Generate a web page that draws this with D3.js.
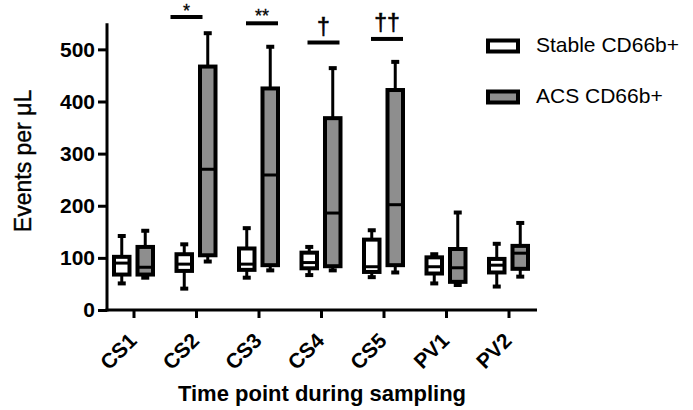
<!DOCTYPE html>
<html>
<head>
<meta charset="utf-8">
<script src="https://cdn.jsdelivr.net/npm/d3@7"></script>
<style>
  html, body { margin: 0; padding: 0; background: #fff; }
  svg { display: block; }
  text { font-family: "Liberation Sans", Arial, sans-serif; fill: #000; }
</style>
</head>
<body>
<svg id="chart" width="693" height="410"></svg>
<script>
// ---- data ----
const categories = ['CS1', 'CS2', 'CS3', 'CS4', 'CS5', 'PV1', 'PV2'];
const seriesNames = ['Stable CD66b+', 'ACS CD66b+'];

const stableMin    = [51, 41, 62, 67, 63, 51, 45];
const stableQ1     = [68, 75, 77, 80, 73, 70, 72];
const stableMedian = [90, 88, 88, 91, 83, 83, 86];
const stableQ3     = [102, 107, 118, 110, 135, 101, 98];
const stableMax    = [142, 126, 157, 121, 153, 107, 127];

const acsMin    = [62, 93, 76, 76, 72, 48, 64];
const acsQ1     = [68, 105, 86, 84, 86, 54, 79];
const acsMedian = [82, 270, 259, 186, 202, 81, 109];
const acsQ3     = [121, 467, 425, 368, 422, 117, 123];
const acsMax    = [152, 531, 505, 464, 476, 187, 167];

const yTicks = [0, 100, 200, 300, 400, 500];

const sigCategories = ['CS2', 'CS3', 'CS4', 'CS5'];
const sigLabels = ['*', '**', '\u2020', '\u2020\u2020'];
const sigLevels = [562, 550, 513, 520];

// ---- layout / style ----
const sigDx = [-9.5, 3.5, 2.5, 3.5];
const fills = ['#ffffff', '#8e8e8e'];
const boxStroke = 4;
const FONT = '"Liberation Sans", Arial, sans-serif';

const svg = d3.select('#chart');

const y = d3.scaleLinear().domain([0, 550]).range([310, 23.3]);
const x = d3.scalePoint().domain(categories).range([133.5, 508.5]);
const xSub = d3.scaleBand().domain(seriesNames).range([-21.5, 21.5]).paddingInner(0.17);

const series = [
  { name: seriesNames[0], min: stableMin, q1: stableQ1, med: stableMedian, q3: stableQ3, max: stableMax, fill: fills[0] },
  { name: seriesNames[1], min: acsMin, q1: acsQ1, med: acsMedian, q3: acsQ3, max: acsMax, fill: fills[1] }
];

// ---- boxes ----
const g = svg.append('g');
series.forEach(s => {
  categories.forEach((c, i) => {
    const cx = x(c) + xSub(s.name) + xSub.bandwidth() / 2;
    const w = xSub.bandwidth() - boxStroke;
    const bg = g.append('g');
    // whisker
    bg.append('line').attr('x1', cx).attr('x2', cx)
      .attr('y1', y(s.max[i])).attr('y2', y(s.min[i]))
      .attr('stroke', '#000').attr('stroke-width', 3);
    // caps
    [s.max[i], s.min[i]].forEach(v => {
      bg.append('line').attr('x1', cx - 4).attr('x2', cx + 4)
        .attr('y1', y(v)).attr('y2', y(v))
        .attr('stroke', '#000').attr('stroke-width', 4);
    });
    // box
    bg.append('rect')
      .attr('x', cx - w / 2).attr('width', w)
      .attr('y', y(s.q3[i])).attr('height', y(s.q1[i]) - y(s.q3[i]))
      .attr('fill', s.fill).attr('stroke', '#000').attr('stroke-width', boxStroke);
    // median
    bg.append('line').attr('x1', cx - w / 2).attr('x2', cx + w / 2)
      .attr('y1', y(s.med[i])).attr('y2', y(s.med[i]))
      .attr('stroke', '#000').attr('stroke-width', 3);
  });
});

// ---- axes ----
const yAxis = d3.axisLeft(y).tickValues(yTicks).tickSize(9).tickSizeOuter(0).tickPadding(3);
const ya = svg.append('g').attr('transform', 'translate(107,0)').call(yAxis);
ya.select('.domain').remove();
ya.selectAll('.tick line').attr('stroke', '#000').attr('stroke-width', 3);
ya.selectAll('.tick text').style('font-size', '21px').style('font-weight', 'bold')
  .style('font-family', FONT).attr('fill', '#000');
svg.append('line').attr('x1', 107).attr('x2', 107).attr('y1', y(0) + 1.5).attr('y2', y(550))
  .attr('stroke', '#000').attr('stroke-width', 3);

const xAxis = d3.axisBottom(x).tickSize(8).tickSizeOuter(0);
const xa = svg.append('g').attr('transform', 'translate(0,310)').call(xAxis);
xa.select('.domain').remove();
xa.selectAll('.tick line').attr('stroke', '#000').attr('stroke-width', 3);
xa.selectAll('.tick text')
  .style('font-size', '21px').style('font-weight', 'bold')
  .style('font-family', FONT).attr('fill', '#000')
  .attr('text-anchor', 'end').attr('dy', null).attr('y', null)
  .attr('transform', 'translate(4,32) rotate(-45)');
svg.append('line').attr('x1', 107 - 1.5).attr('x2', 537).attr('y1', 310).attr('y2', 310)
  .attr('stroke', '#000').attr('stroke-width', 3);

// ---- axis titles ----
svg.append('text').attr('transform', 'translate(31,161) rotate(-90)')
  .attr('text-anchor', 'middle').style('font-size', '23px')
  .attr('stroke', '#000').attr('stroke-width', 0.4)
  .text('Events per \u03bcL');
svg.append('text').attr('x', 322).attr('y', 401)
  .attr('text-anchor', 'middle').style('font-size', '22px').style('font-weight', 'bold')
  .text('Time point during sampling');

// ---- significance ----
sigCategories.forEach((c, i) => {
  const cx = x(c) + sigDx[i];
  const yy = y(sigLevels[i]);
  svg.append('line').attr('x1', cx - 16).attr('x2', cx + 16).attr('y1', yy).attr('y2', yy)
    .attr('stroke', '#000').attr('stroke-width', 4);
  const isDagger = sigLabels[i].indexOf('\u2020') >= 0;
  svg.append('text').attr('x', cx).attr('y', isDagger ? yy - 8 : Math.max(yy - 1, 17))
    .attr('text-anchor', 'middle').style('font-size', isDagger ? '23px' : '18px')
    .attr('stroke', '#000').attr('stroke-width', isDagger ? 0.6 : 0.3)
    .text(sigLabels[i]);
});

// ---- legend ----
const legendY = [40.5, 91.5];
seriesNames.forEach((n, i) => {
  svg.append('rect').attr('x', 488).attr('y', legendY[i]).attr('width', 30).attr('height', 11)
    .attr('fill', fills[i]).attr('stroke', '#000').attr('stroke-width', 4);
  svg.append('text').attr('x', 536).attr('y', legendY[i] + 11.5)
    .style('font-size', '21px').text(n);
});
</script>
</body>
</html>
